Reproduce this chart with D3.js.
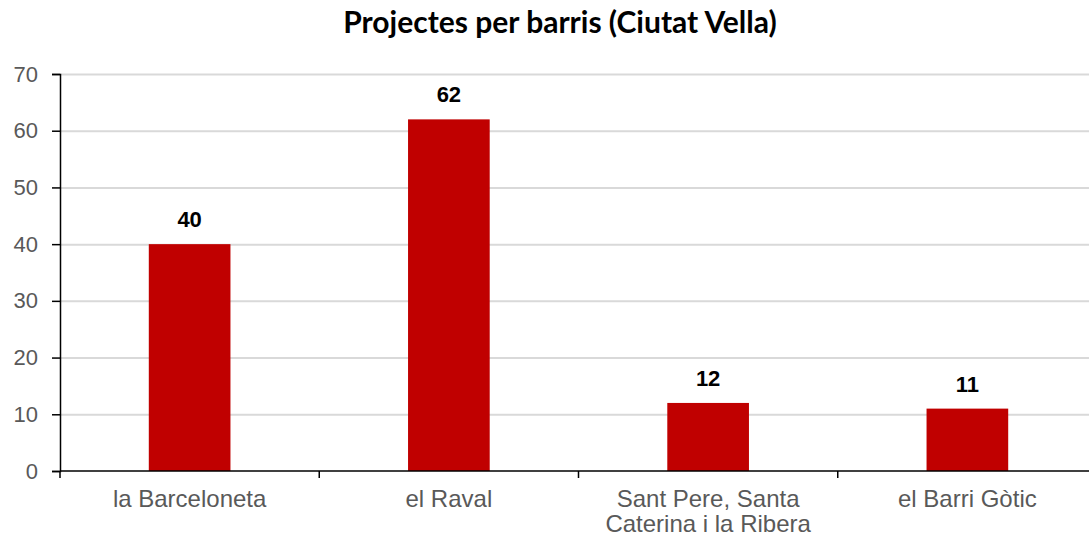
<!DOCTYPE html>
<html><head><meta charset="utf-8">
<script src="https://cdn.jsdelivr.net/npm/d3@7"></script>
<style>body{margin:0;background:#fff}svg{display:block}</style>
</head><body><svg id="c" width="1089" height="538"></svg>
<script>
const categories = [["la Barceloneta"], ["el Raval"], ["Sant Pere, Santa", "Caterina i la Ribera"], ["el Barri Gòtic"]];
const values = [40, 62, 12, 11];
const yTicks = [0, 10, 20, 30, 40, 50, 60, 70];
const title = "Projectes per barris (Ciutat Vella)";

(function() {
const svg = d3.select("#c");
const mL = 60, mR = 1097, mT = 74, mB = 471;
const keys = categories.map((c, i) => i);
const x = d3.scaleBand().domain(keys).range([mL, mR]).paddingInner(0.685).paddingOuter(0.3425);
const xb = d3.scaleBand().domain(keys).range([mL, mR]);
const y = d3.scaleLinear().domain([0, 70]).range([mB, mT]);
const arial = "'Liberation Sans', Arial, sans-serif";

svg.append("text").attr("x", 560).attr("y", 33).attr("text-anchor", "middle")
  .style("font-family", "Lato, 'Open Sans', sans-serif").style("font-weight", "bold").style("font-size", "30px")
  .attr("fill", "#000").text(title);

// gridlines
svg.append("g").selectAll("line").data(yTicks.filter(d => d > 0)).join("line")
  .attr("x1", mL).attr("x2", mR).attr("y1", d => y(d) + 0.5).attr("y2", d => y(d) + 0.5)
  .attr("stroke", "#d9d9d9").attr("stroke-width", 2);

// bars
svg.append("g").selectAll("rect").data(values).join("rect")
  .attr("x", (d, i) => x(i)).attr("width", x.bandwidth())
  .attr("y", d => y(d)).attr("height", d => y(0) - y(d)).attr("fill", "#c00000");

// value labels
svg.append("g").selectAll("text").data(values).join("text")
  .attr("x", (d, i) => x(i) + x.bandwidth() / 2).attr("y", d => y(d) - 17)
  .attr("text-anchor", "middle").style("font-family", arial)
  .style("font-weight", "bold").style("font-size", "22px").attr("fill", "#000").text(d => d);

// y axis
const yAxis = svg.append("g").attr("transform", `translate(${mL},0)`)
  .call(d3.axisLeft(y).tickValues(yTicks).tickSize(8).tickPadding(14));
yAxis.select(".domain").attr("stroke", "#000").attr("stroke-width", 1.5);
yAxis.selectAll(".tick line").attr("stroke", "#000").attr("stroke-width", 1.5);
yAxis.selectAll(".tick text").style("font-family", arial)
  .style("font-size", "22px").attr("fill", "#595959");

// x axis
const xAxis = svg.append("g").attr("transform", `translate(0,${mB})`);
xAxis.append("line").attr("x1", mL).attr("x2", mR).attr("stroke", "#000").attr("stroke-width", 1.5);
const bounds = keys.map(k => xb(k));
xAxis.selectAll(".xt").data(bounds).join("line").attr("class", "xt")
  .attr("x1", d => d).attr("x2", d => d).attr("y1", 0).attr("y2", 7)
  .attr("stroke", "#000").attr("stroke-width", 1.5);
const lbl = xAxis.selectAll(".xl").data(categories).join("text").attr("class", "xl")
  .attr("text-anchor", "middle").style("font-family", arial)
  .style("font-size", "24px").attr("fill", "#595959");
lbl.each(function(lines, i) {
  d3.select(this).selectAll("tspan").data(lines).join("tspan")
    .attr("x", xb(i) + xb.bandwidth() / 2).attr("y", (d, j) => 36 + j * 25).text(d => d);
});
})();
</script></body></html>
